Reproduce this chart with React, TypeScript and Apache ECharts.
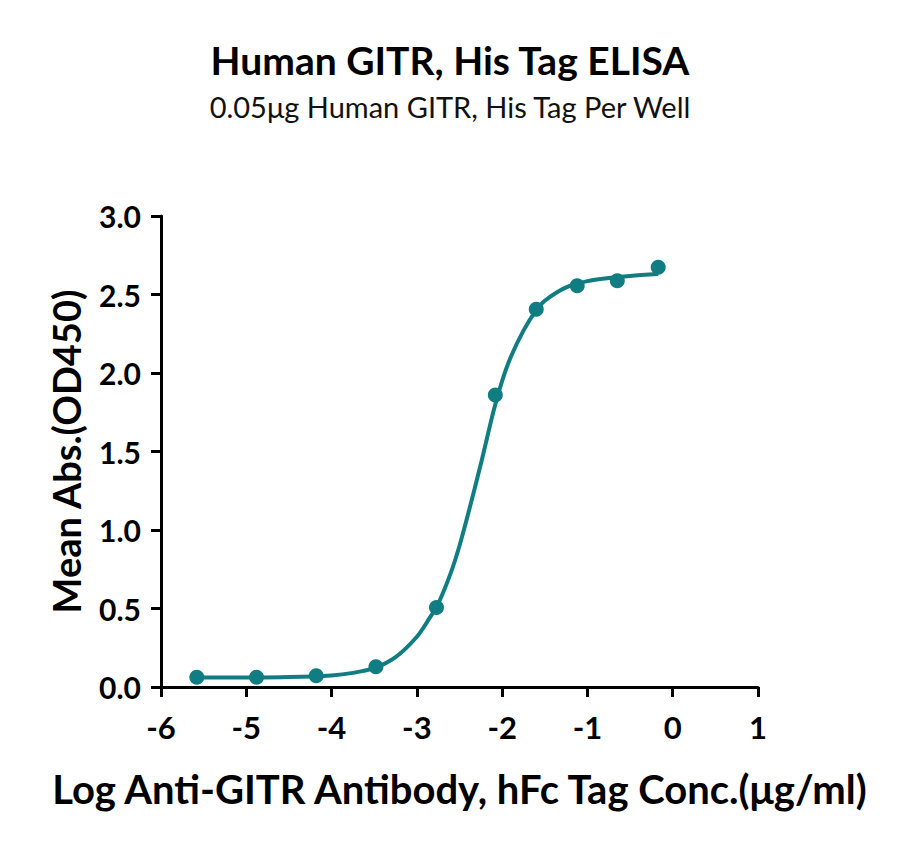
import { useRef, useEffect } from "react";
import * as echarts from "echarts";

// 数据点 (log 浓度, OD450)
const pointX = [-5.58, -4.88, -4.18, -3.48, -2.77, -2.08, -1.6, -1.12, -0.65, -0.17];
const pointY = [0.062, 0.062, 0.072, 0.129, 0.507, 1.86, 2.406, 2.556, 2.588, 2.673];

// 拟合曲线
const curveX = [-5.58, -5.0, -4.5, -4.0, -3.75, -3.5, -3.25, -3.0, -2.85, -2.75, -2.6, -2.5, -2.4, -2.25, -2.1, -2.0, -1.9, -1.75, -1.6, -1.5, -1.25, -1.0, -0.75, -0.5, -0.17];
const curveY = [0.06, 0.06, 0.063, 0.074, 0.09, 0.12, 0.19, 0.32, 0.44, 0.53, 0.73, 0.9, 1.1, 1.42, 1.76, 1.95, 2.1, 2.27, 2.4, 2.46, 2.545, 2.585, 2.605, 2.618, 2.63];

const title = "Human GITR, His Tag ELISA";
const subtitle = "0.05μg Human GITR, His Tag Per Well";
const xName = "Log Anti-GITR Antibody, hFc Tag Conc.(μg/ml)";
const yName = "Mean Abs.(OD450)";

const teal = "#107d82";
const font = "Lato";

const App = () => {
  const chartRef = useRef<HTMLDivElement>(null);

  useEffect(() => {
    const myChart = echarts.init(chartRef.current, null, { renderer: "svg" });

    const axisCommon = {
      axisLine: { show: true, onZero: false, lineStyle: { color: "#000", width: 3 } },
      axisTick: { show: true, inside: false, length: 10, lineStyle: { color: "#000", width: 3 } },
      splitLine: { show: false },
    };

    myChart.setOption({
      animation: false,
      title: {
        text: title,
        subtext: subtitle,
        left: "center",
        top: 27,
        itemGap: 13,
        textStyle: { fontFamily: font, fontWeight: "bold", fontSize: 39, color: "#000" },
        subtextStyle: { fontFamily: font, fontSize: 29, color: "#111" },
      },
      grid: { left: 153, right: 134, top: 208, bottom: 147 },
      xAxis: {
        type: "value",
        min: -6,
        max: 1,
        interval: 1,
        name: xName,
        nameLocation: "middle",
        nameGap: 82,
        nameTextStyle: { fontFamily: font, fontWeight: "bold", fontSize: 40, color: "#000" },
        ...axisCommon,
        axisLabel: { fontFamily: font, fontWeight: "bold", fontSize: 31, color: "#000", margin: 24 },
      },
      yAxis: {
        type: "value",
        min: 0,
        max: 3,
        interval: 0.5,
        name: yName,
        nameLocation: "middle",
        nameGap: 76,
        nameTextStyle: { fontFamily: font, fontWeight: "bold", fontSize: 38, color: "#000" },
        ...axisCommon,
        axisLabel: {
          fontFamily: font,
          fontWeight: "bold",
          fontSize: 30,
          color: "#000",
          margin: 20,
          formatter: (v: number) => v.toFixed(1),
        },
      },
      series: [
        {
          type: "line",
          data: curveX.map((x, i) => [x, curveY[i]]),
          smooth: 0.3,
          showSymbol: false,
          lineStyle: { color: teal, width: 4 },
          z: 2,
        },
        {
          type: "scatter",
          data: pointX.map((x, i) => [x, pointY[i]]),
          symbolSize: 15,
          itemStyle: { color: teal, opacity: 1 },
          z: 3,
        },
      ],
    });

    return () => {
      myChart.dispose();
    };
  }, []);

  return <div ref={chartRef} style={{ width: "884px", height: "826px" }}></div>;
};

export default App;
